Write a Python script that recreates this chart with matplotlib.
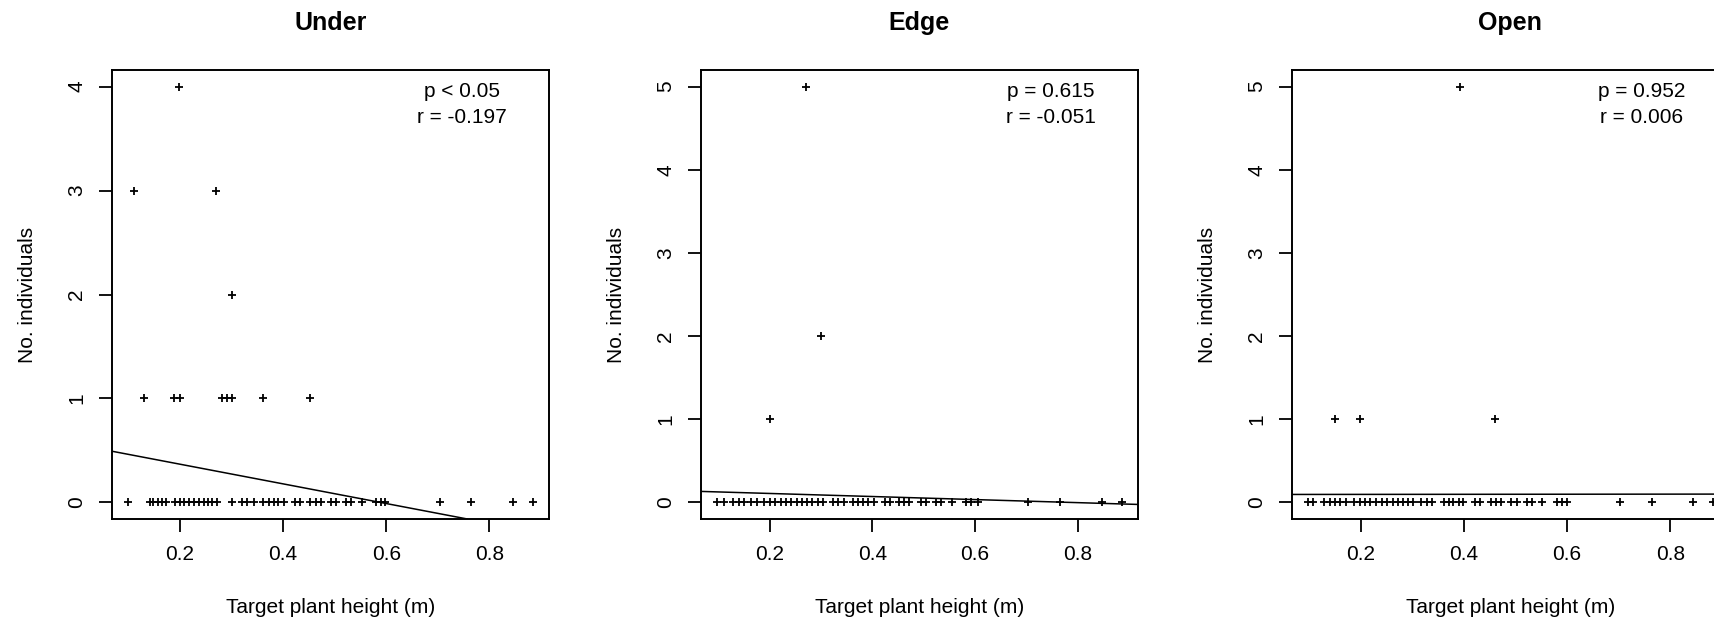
import matplotlib
matplotlib.use("Agg")
import matplotlib.pyplot as plt

plt.rcParams['font.family'] = ['Liberation Sans', 'DejaVu Sans']

# ---- data ------------------------------------------------------------------
panel_titles = ["Under", "Edge", "Open"]
x_label = "Target plant height (m)"
y_label = "No. individuals"
x_ticks = [0.2, 0.4, 0.6, 0.8]
x_tick_labels = ["0.2", "0.4", "0.6", "0.8"]
y_ticks_under = [0, 1, 2, 3, 4]
y_ticks_other = [0, 1, 2, 3, 4, 5]

# plants with no individuals (count = 0)
under_zero_x = [0.100, 0.143, 0.149, 0.157, 0.166, 0.173, 0.191, 0.200, 0.209, 0.218,
                0.227, 0.237, 0.246, 0.254, 0.263, 0.273, 0.301, 0.321, 0.330, 0.343,
                0.362, 0.372, 0.382, 0.391, 0.401, 0.424, 0.432, 0.453, 0.464, 0.474,
                0.493, 0.503, 0.522, 0.531, 0.553, 0.581, 0.589, 0.597, 0.704, 0.765,
                0.846, 0.884]
under_x = [0.198, 0.112, 0.271, 0.301, 0.130, 0.189, 0.201, 0.282, 0.292, 0.301, 0.362, 0.453]
under_y = [4, 3, 3, 2, 1, 1, 1, 1, 1, 1, 1, 1]

edge_zero_x = [0.098, 0.111, 0.129, 0.140, 0.151, 0.163, 0.175, 0.190, 0.200, 0.211,
               0.222, 0.232, 0.242, 0.253, 0.263, 0.273, 0.283, 0.294, 0.304, 0.324,
               0.333, 0.345, 0.362, 0.372, 0.381, 0.391, 0.403, 0.424, 0.434, 0.452,
               0.462, 0.472, 0.495, 0.504, 0.524, 0.533, 0.556, 0.583, 0.592, 0.605,
               0.704, 0.765, 0.848, 0.886]
edge_x = [0.271, 0.301, 0.201]
edge_y = [5, 2, 1]

open_zero_x = [0.098, 0.107, 0.129, 0.140, 0.150, 0.160, 0.171, 0.188, 0.199, 0.209,
               0.219, 0.230, 0.241, 0.251, 0.262, 0.272, 0.282, 0.292, 0.302, 0.318,
               0.328, 0.339, 0.361, 0.371, 0.380, 0.390, 0.399, 0.422, 0.431, 0.453,
               0.463, 0.473, 0.492, 0.503, 0.522, 0.533, 0.551, 0.581, 0.591, 0.601,
               0.703, 0.765, 0.845, 0.882]
open_x = [0.392, 0.150, 0.199, 0.460]
open_y = [5, 1, 1, 1]

# fitted lines (intercept, slope) and stats text
line_fits = [(0.557, -0.947), (0.144, -0.184), (0.095, 0.005)]
p_texts = ["p < 0.05", "p = 0.615", "p = 0.952"]
r_texts = ["r = -0.197", "r = -0.051", "r = 0.006"]

# ---- layout (pixels) ---------------------------------------------------------
W, H = 1715, 624
fig = plt.figure(figsize=(W / 100, H / 100), dpi=100)
fig.patch.set_facecolor('white')


def frac(x, y):
    return x / W, 1 - y / H


axes_lefts = [112, 701, 1291.7]
ax_top, ax_bottom, ax_w = 70, 519, 437

panels = [
    (under_zero_x, under_x, under_y, y_ticks_under),
    (edge_zero_x, edge_x, edge_y, y_ticks_other),
    (open_zero_x, open_x, open_y, y_ticks_other),
]

for i, (zero_x, nz_x, nz_y, y_ticks) in enumerate(panels):
    left = axes_lefts[i]
    ax = fig.add_axes([left / W, (H - ax_bottom) / H, ax_w / W, (ax_bottom - ax_top) / H])
    xs = list(zero_x) + list(nz_x)
    ys = [0] * len(zero_x) + list(nz_y)
    ax.plot(xs, ys, linestyle='none', marker='+', ms=5.5, mew=1.3, color='black')

    # R-style 4% padding, then freeze the limits before drawing the fit
    ax.margins(x=0.04, y=0.04)
    ax.autoscale_view()
    ax.set_xlim(ax.get_xlim())
    ax.set_ylim(ax.get_ylim())
    b0, b1 = line_fits[i]
    ax.axline((0, b0), slope=b1, color='black', linewidth=1.1)

    ax.set_xticks(x_ticks)
    ax.set_xticklabels(x_tick_labels)
    ax.set_yticks(y_ticks)
    ax.set_yticklabels([str(t) for t in y_ticks], rotation=90, va='center')
    ax.tick_params(direction='out', length=9.5, width=1.3, pad=9, labelsize=15,
                   top=False, right=False, colors='black')
    for sp in ax.spines.values():
        sp.set_linewidth(1.4)
        sp.set_color('black')

    cx = left + ax_w / 2
    fig.text(*frac(cx, 30), panel_titles[i], ha='center', va='baseline',
             fontsize=18, fontweight='bold')
    fig.text(*frac(cx, 613), x_label, ha='center', va='baseline', fontsize=15)
    fig.text(*frac(left - 79, (ax_top + ax_bottom) / 2), y_label, rotation=90,
             rotation_mode='anchor', ha='center', va='baseline', fontsize=15)
    tx = left + ax_w - 87
    fig.text(*frac(tx, 97), p_texts[i], ha='center', va='baseline', fontsize=15)
    fig.text(*frac(tx, 123), r_texts[i], ha='center', va='baseline', fontsize=15)

fig.savefig("out.png", dpi=100, facecolor='white')
